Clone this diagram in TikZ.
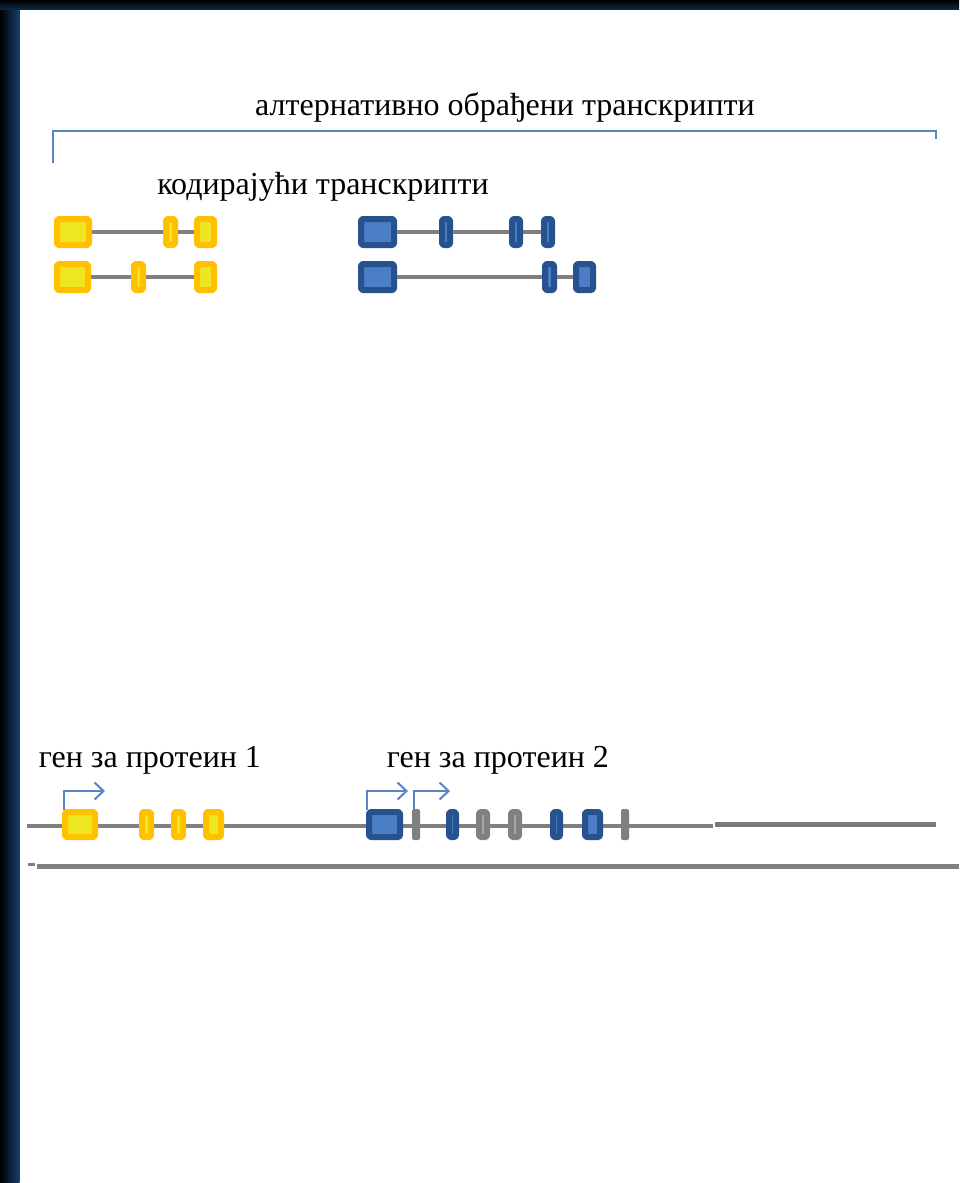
\documentclass[tikz,border=0pt]{standalone}
\usepackage{fontspec}
\setmainfont{Liberation Serif}
\usetikzlibrary{arrows.meta}
\definecolor{exorange}{HTML}{FFC000}
\definecolor{exyellow}{HTML}{EEE620}
\definecolor{exblueb}{HTML}{26528F}
\definecolor{exbluef}{HTML}{4C7EC5}
\definecolor{exgray}{HTML}{808080}
\definecolor{exgrayf}{HTML}{ABABAB}
\definecolor{brblue}{HTML}{5A84C4}
\definecolor{navy}{HTML}{173F6E}
\tikzset{
  exon/.style={rectangle, rounded corners=1.5pt, line join=round, line width=6pt, inner sep=0pt, minimum height=26pt},
  yex/.style={exon, draw=exorange, fill=exyellow},
  bex/.style={exon, draw=exblueb, fill=exbluef},
  gex/.style={exon, draw=exgray, fill=exgrayf},
  gsolid/.style={rectangle, rounded corners=1pt, line join=round, line width=2pt, inner sep=0pt, draw=exgray, fill=exgray, minimum width=6pt, minimum height=29pt},
  intron/.style={draw=exgray, line width=3.2pt},
  geneline/.style={draw=exgray, line width=4pt},
  tss/.style={draw=brblue, line width=2pt, -{Straight Barb[length=9pt,width=17pt,line width=2pt]}},
  bracket/.style={draw=brblue, line width=2.4pt},
  lbl/.style={inner sep=0pt, font=\fontsize{32}{38}\selectfont}
}
\begin{document}
\begin{tikzpicture}[x=1pt,y=-1pt]
\useasboundingbox (0,0) rectangle (959,1183);
\fill[white] (0,0) rectangle (959,1183);
% frame strips
\shade[left color=black, right color=navy] (0,0) rectangle (19.5,1183);
\shade[top color=black, bottom color=navy!60!black] (0,0) rectangle (959,9);
% labels
\node[lbl] (title) at (505,107) {алтернативно обрађени транскрипти};
\node[lbl] (coding) at (323,187) {кодирајући транскрипти};
\node[lbl] (gene1) at (150,760) {ген за протеин 1};
\node[lbl] (gene2) at (498,760) {ген за протеин 2};
% bracket
\coordinate (bl) at (53,163);
\coordinate (blt) at (53,131);
\coordinate (brt) at (936,131);
\coordinate (br) at (936,139);
\draw[bracket] (bl) -- (blt) -- (brt) -- (br);
% yellow transcripts
\node[yex, minimum width=32pt] (A1) at (73,232) {};
\node[yex, minimum width=9pt] (A2) at (170.5,232) {};
\node[yex, minimum width=17pt] (A3) at (205.5,232) {};
\node[yex, minimum width=31pt] (B1) at (72.5,277) {};
\node[yex, minimum width=9pt] (B2) at (138.5,277) {};
\node[yex, minimum width=17pt] (B3) at (205.5,277) {};
\draw[intron] (A1) -- (A2) -- (A3);
\draw[intron] (B1) -- (B2) -- (B3);
% blue transcripts
\node[bex, minimum width=33pt] (C1) at (377.5,232) {};
\node[bex, minimum width=8pt] (C2) at (446,232) {};
\node[bex, minimum width=8pt] (C3) at (516,232) {};
\node[bex, minimum width=8pt] (C4) at (548,232) {};
\node[bex, minimum width=33pt] (D1) at (377.5,277) {};
\node[bex, minimum width=9pt] (D2) at (549.5,277) {};
\node[bex, minimum width=17pt] (D3) at (584.5,277) {};
\draw[intron] (C1) -- (C2) -- (C3) -- (C4);
\draw[intron] (D1) -- (D2) -- (D3);
% genomic region
\coordinate (gs) at (27,826);
\coordinate (ge) at (713,826);
\coordinate (g2s) at (715,824.5);
\coordinate (g2e) at (936,824.5);
\draw[geneline] (gs) -- (ge);
\draw[draw=exgray!95!black, line width=5pt] (g2s) -- (g2e);
\node[yex, minimum width=30pt, minimum height=25pt] (G1) at (80,824.5) {};
\node[yex, minimum width=9pt, minimum height=25pt] (G2) at (146.5,824.5) {};
\node[yex, minimum width=9pt, minimum height=25pt] (G3) at (178.5,824.5) {};
\node[yex, minimum width=15pt, minimum height=25pt] (G4) at (213.5,824.5) {};
\node[bex, minimum width=31pt, minimum height=25pt] (H1) at (384.5,824.5) {};
\node[gsolid] (H2) at (416,824.5) {};
\node[bex, minimum width=7pt, minimum height=25pt] (H3) at (452.5,824.5) {};
\node[gex, minimum width=8pt, minimum height=25pt] (H4) at (483,824.5) {};
\node[gex, minimum width=8pt, minimum height=25pt] (H5) at (515,824.5) {};
\node[bex, minimum width=7pt, minimum height=25pt] (H6) at (556.5,824.5) {};
\node[bex, minimum width=15pt, minimum height=25pt] (H7) at (592.5,824.5) {};
\node[gsolid] (H8) at (625,824.5) {};
% transcription start arrows
\coordinate (t1) at (105,791);
\coordinate (t2) at (408,791);
\coordinate (t3) at (450,791);
\draw[tss] ([xshift=2pt,yshift=-1pt]G1.north west) |- (t1);
\draw[tss] ([xshift=1pt,yshift=-1pt]H1.north west) |- (t2);
\draw[tss] ([xshift=-2pt]H2.north) |- (t3);
% lower line
\coordinate (ls) at (37,866);
\coordinate (le) at (959,866);
\coordinate (ds) at (28,864);
\coordinate (de) at (35,864);
\draw[draw=exgray, line width=5pt] (ls) -- (le);
\draw[draw=exgray, line width=3pt] (ds) -- (de);
\end{tikzpicture}
\end{document}
